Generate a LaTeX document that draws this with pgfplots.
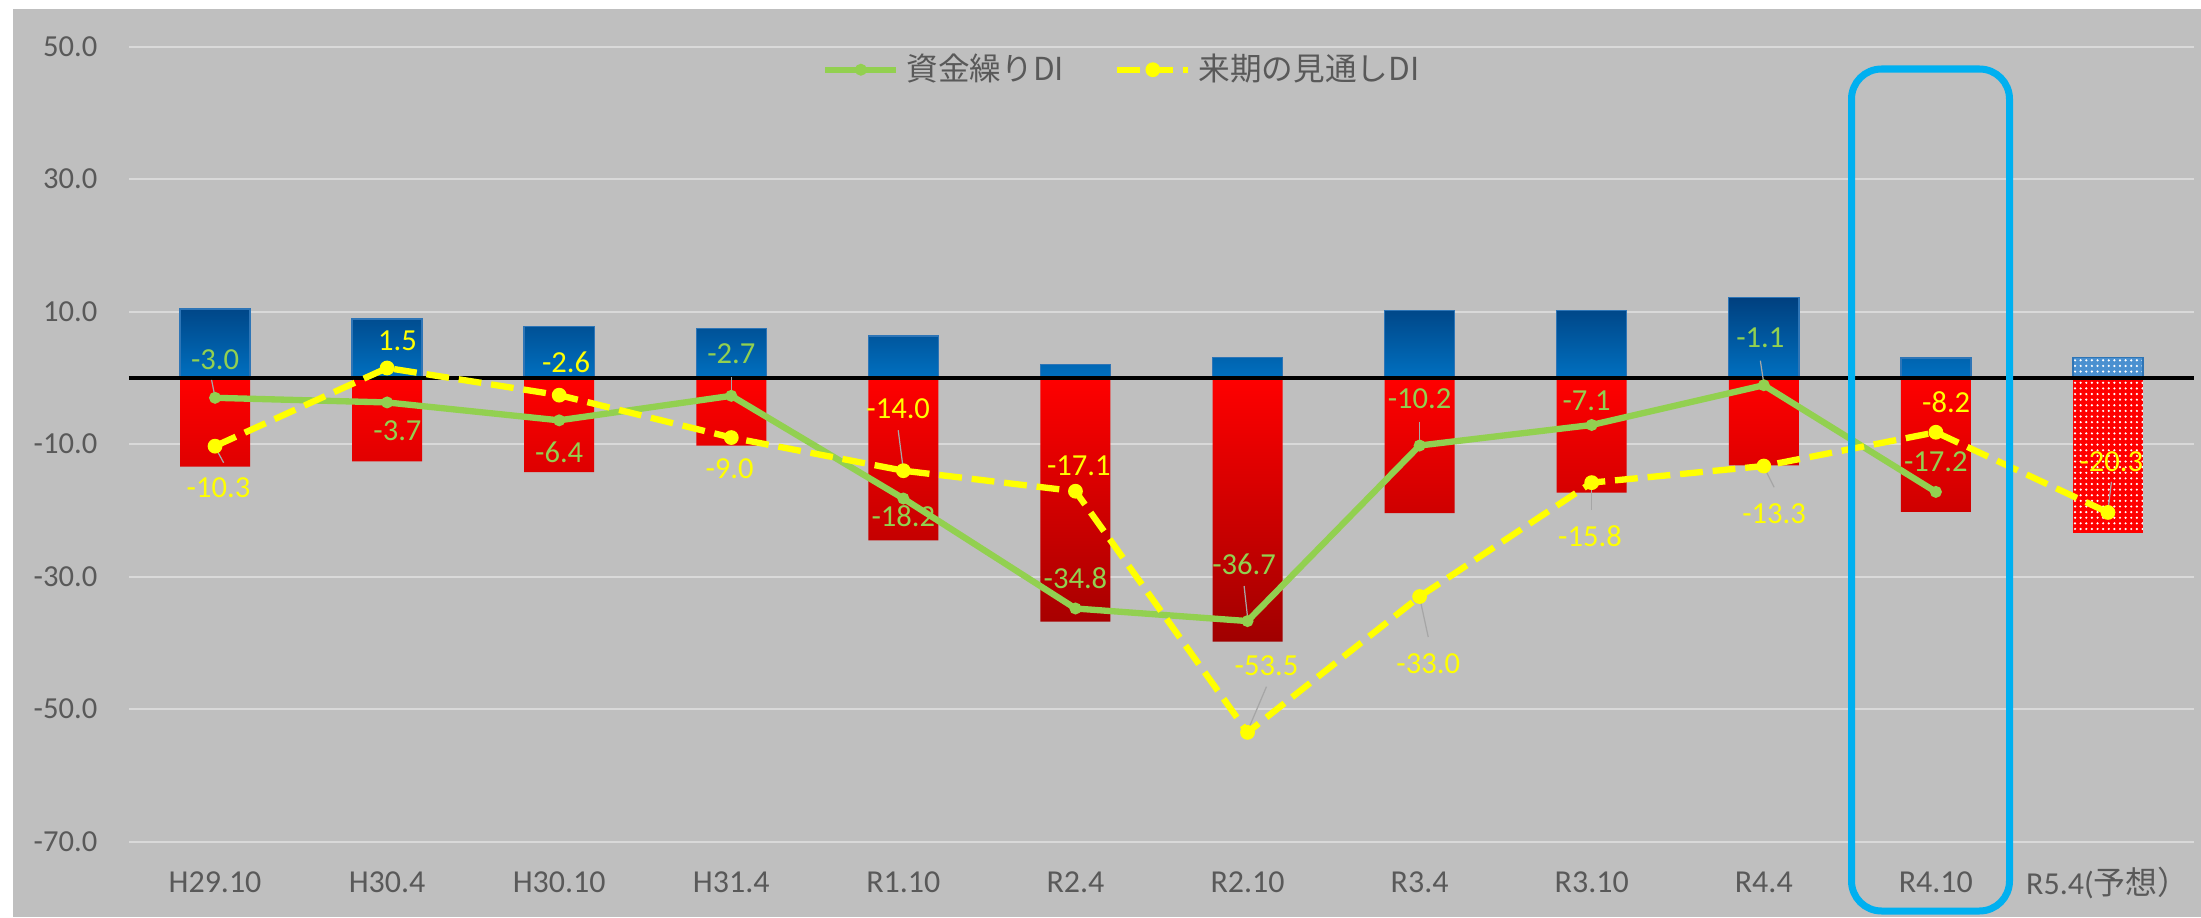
\documentclass[border=0pt]{standalone}
\usepackage{fontspec}
\setmainfont{Carlito}
\newfontfamily\cjk{Noto Sans CJK JP}
\usepackage{pgfplots}
\pgfplotsset{compat=1.18}
\usetikzlibrary{patterns.meta}
\definecolor{bgray}{HTML}{BFBFBF}
\definecolor{gridc}{HTML}{D9D9D9}
\definecolor{txt}{HTML}{595959}
\definecolor{bluetop}{HTML}{00407F}
\definecolor{bluebot}{HTML}{0070C0}
\definecolor{blueedge}{HTML}{2E75B6}
\definecolor{redtop}{HTML}{FF0000}
\definecolor{redbot}{HTML}{A00000}
\definecolor{lgreen}{HTML}{92D050}
\definecolor{lyellow}{HTML}{FFFF00}
\definecolor{hl}{HTML}{00B0F0}
\definecolor{leadc}{HTML}{A6A6A6}
\definecolor{fcblue}{HTML}{4A90D0}
\newcommand\leader[4]{\addplot[leadc, line width=0.35pt, forget plot] coordinates {(#1,#2)(#3,#4)};}
\begin{document}
\begin{tikzpicture}
\fill[white] (0,0) rectangle (22.01cm,9.17cm);
\fill[bgray] (0.13cm,0) rectangle (22.01cm,9.08cm);
\begin{axis}[
  scale only axis, width=20.65cm, height=7.95cm,
  at={(1.29cm,0.753cm)}, anchor=south west,
  xmin=-0.5, xmax=11.5, ymin=-70, ymax=50,
  axis line style={draw=none}, tick style={draw=none}, major tick length=0pt,
  ymajorgrids, grid style={gridc, line width=0.48pt},
  xtick={0,...,11},
  xticklabels={H29.10,H30.4,H30.10,H31.4,R1.10,R2.4,R2.10,R3.4,R3.10,R4.4,R4.10,{R5.4({\cjk 予想）}}},
  ytick={-70,-50,-30,-10,10,30,50},
  yticklabels={-70.0,-50.0,-30.0,-10.0,10.0,30.0,50.0},
  xticklabel style={anchor=center, yshift=-0.41cm, font=\fontsize{9.1}{11}\selectfont, text=txt, inner sep=0pt},
  yticklabel style={anchor=east, xshift=-0.31cm, font=\fontsize{8.7}{10}\selectfont, text=txt, inner sep=0pt},
  clip=false,
  legend style={at={(0.482,0.971)}, anchor=center, draw=none, fill=none, legend columns=2,
    font=\cjk\fontsize{9}{11}\selectfont, text=txt,
    /tikz/every even column/.append style={column sep=0.43cm}},
  legend image code/.code={\draw[mark repeat=2,mark phase=2,#1] plot coordinates {(0cm,0cm)(0.355cm,0cm)(0.71cm,0cm)};},
]
% bars
\addplot[ybar, bar width=0.407, bar shift=0pt, draw=blueedge, line width=0.4pt, top color=bluetop, bottom color=bluebot, forget plot]
  coordinates {(0,10.4)(1,8.9)(2,7.8)(3,7.5)(4,6.3)(5,2.0)(6,3.1)(7,10.2)(8,10.2)(9,12.1)(10,3.0)};
\addplot[ybar, bar width=0.407, bar shift=0pt, draw=none, top color=redtop, bottom color=redbot, forget plot]
  coordinates {(0,-13.4)(1,-12.6)(2,-14.2)(3,-10.2)(4,-24.5)(5,-36.8)(6,-39.8)(7,-20.4)(8,-17.3)(9,-13.2)(10,-20.2)};
\addplot[ybar, bar width=0.407, bar shift=0pt, draw=blueedge, line width=0.4pt, fill=fcblue,
  postaction={pattern={Dots[distance=1.6pt,radius=0.35pt]}, pattern color=white}, forget plot]
  coordinates {(11,3.1)};
\addplot[ybar, bar width=0.407, bar shift=0pt, draw=none, fill=redtop,
  postaction={pattern={Dots[distance=1.6pt,radius=0.35pt]}, pattern color=white}, forget plot]
  coordinates {(11,-23.4)};
% zero line
\addplot[black, line width=0.95pt, forget plot] coordinates {(-0.5,0)(11.5,0)};
% leader lines
\leader{-0.02}{-0.3}{0}{-2.9}
\leader{0}{-10.4}{0.05}{-12.8}
\leader{3}{0.1}{3}{-2.6}
\leader{3.97}{-7.9}{4}{-13.9}
\leader{5.98}{-31.4}{6}{-36.1}
\leader{6.11}{-46.6}{6.01}{-52.7}
\leader{7}{-6.6}{7}{-9.9}
\leader{7}{-33.1}{7.05}{-39.1}
\leader{8}{-15.9}{8}{-19.9}
\leader{8.98}{2.6}{9}{-0.8}
\leader{9}{-13.4}{9.06}{-16.5}
\leader{11.02}{-15.7}{11}{-20}
% lines
\addplot[lgreen, line width=1.8pt, mark=*, mark size=1.45pt, mark options={solid, fill=lgreen, draw=lgreen, line width=0.5pt}]
  coordinates {(0,-3.0)(1,-3.7)(2,-6.4)(3,-2.7)(4,-18.2)(5,-34.8)(6,-36.7)(7,-10.2)(8,-7.1)(9,-1.1)(10,-17.2)};
\addlegendentry{資金繰りDI}
\addplot[lyellow, line width=1.8pt, dash pattern=on 6.5pt off 2.8pt, mark=*, mark size=1.85pt, mark options={solid, fill=lyellow, draw=lyellow, line width=0.5pt}]
  coordinates {(0,-10.3)(1,1.5)(2,-2.6)(3,-9.0)(4,-14.0)(5,-17.1)(6,-53.5)(7,-33.0)(8,-15.8)(9,-13.3)(10,-8.2)(11,-20.3)};
\addlegendentry{来期の見通しDI}
% labels
\addplot[draw=none, mark=none, forget plot, nodes near coords, point meta=explicit symbolic, nodes near coords align=center,
  every node near coord/.append style={text=lgreen, font=\fontsize{8.7}{10}\selectfont, inner sep=0pt}]
  coordinates {(0,2.7)[-3.0] (1.06,-7.9)[-3.7] (2,-11.2)[-6.4] (3,3.6)[-2.7] (4,-20.8)[-18.2] (5,-30.2)[-34.8]
  (5.98,-28.2)[-36.7] (7,-3.2)[-10.2] (7.97,-3.4)[-7.1] (8.98,6.1)[-1.1] (10,-12.7)[-17.2]};
\addplot[draw=none, mark=none, forget plot, nodes near coords, point meta=explicit symbolic, nodes near coords align=center,
  every node near coord/.append style={text=lyellow, font=\fontsize{8.7}{10}\selectfont, inner sep=0pt}]
  coordinates {(0.02,-16.5)[-10.3] (1.06,5.6)[1.5] (2.04,2.3)[-2.6] (2.99,-13.7)[-9.0] (3.97,-4.6)[-14.0] (5.02,-13.3)[-17.1]
  (6.11,-43.4)[-53.5] (7.05,-43.1)[-33.0] (7.99,-23.9)[-15.8] (9.06,-20.5)[-13.3] (10.06,-3.6)[-8.2] (11.02,-12.7)[-20.3]};
\end{axis}
\draw[hl, line width=0.07cm, rounded corners=0.3cm] (18.515cm,0.06cm) rectangle (20.095cm,8.48cm);
\end{tikzpicture}
\end{document}
